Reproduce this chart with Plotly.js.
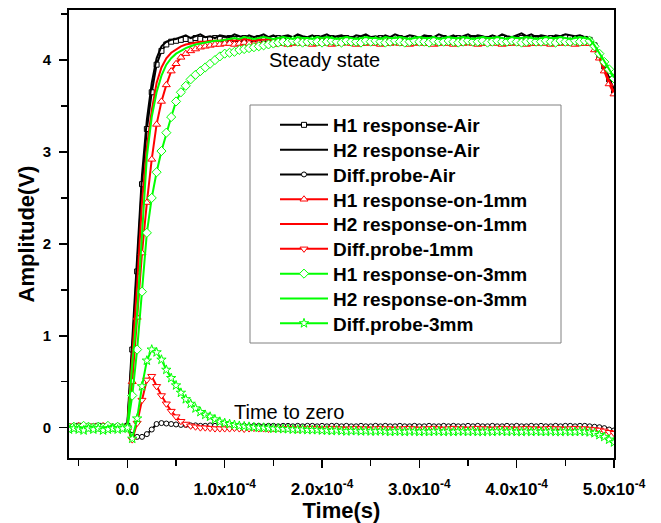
<!DOCTYPE html>
<html>
<head>
<meta charset="utf-8">
<script src="https://cdn.plot.ly/plotly-3.0.1.min.js"></script>
<style>
html,body{margin:0;padding:0;background:#fff;}
#chart{width:661px;height:523px;}
</style>
</head>
<body>
<div id="chart"></div>
<script>
// Sample grid: -60 us to 500 us every 5 us (113 samples)
const timeStartUs = -60;
const timeStepUs = 5;
const sampleCount = 113;

const seriesNames = [
  "H1 response-Air", "H2 response-Air", "Diff.probe-Air",
  "H1 response-on-1mm", "H2 response-on-1mm", "Diff.probe-1mm",
  "H1 response-on-3mm", "H2 response-on-3mm", "Diff.probe-3mm"
];

const xTickVals = [0, 1e-4, 2e-4, 3e-4, 4e-4, 5e-4];
const xTickText = ["0.0", "1.0x10<sup>-4</sup>", "2.0x10<sup>-4</sup>", "3.0x10<sup>-4</sup>", "4.0x10<sup>-4</sup>", "5.0x10<sup>-4</sup>"];
const yTickVals = [0, 1, 2, 3, 4];

const blackH1 = [
 0.01,0.00,0.02,0.01,0.00,0.01,0.02,0.00,0.01,0.00,0.01,0.00,
 0.02,0.85,1.70,2.65,3.25,3.65,3.95,4.10,4.17,4.20,4.21,
 4.22,4.23,4.22,4.24,4.23,4.22,4.23,4.24,4.23,4.22,4.24,4.23,
 4.23,4.24,4.22,4.23,4.24,4.23,4.22,4.23,4.24,4.23,4.23,4.22,
 4.24,4.23,4.22,4.23,4.24,4.23,4.23,4.24,4.22,4.23,4.24,4.23,
 4.22,4.23,4.24,4.23,4.22,4.24,4.23,4.23,4.22,4.24,4.23,4.24,
 4.23,4.22,4.23,4.24,4.23,4.22,4.24,4.23,4.23,4.24,4.22,4.23,
 4.24,4.23,4.22,4.23,4.24,4.23,4.24,4.23,4.22,4.23,4.24,4.23,
 4.23,4.24,4.23,4.22,4.24,4.23,4.24,4.25,4.24,4.23,4.24,4.23,
 4.22,4.16,4.05,3.93,3.79,3.67
];
const blackH2 = [
 0.02,0.01,0.03,0.00,0.02,0.01,0.00,0.02,0.01,0.03,0.00,0.01,
 0.05,0.95,1.80,2.75,3.35,3.75,4.02,4.15,4.20,4.22,4.23,
 4.25,4.27,4.24,4.26,4.28,4.25,4.26,4.24,4.27,4.26,4.25,4.28,
 4.26,4.24,4.27,4.25,4.26,4.28,4.25,4.27,4.24,4.26,4.27,4.25,
 4.28,4.26,4.25,4.27,4.24,4.26,4.28,4.25,4.26,4.27,4.25,4.24,
 4.27,4.26,4.28,4.25,4.26,4.24,4.27,4.25,4.28,4.26,4.25,4.27,
 4.26,4.24,4.27,4.26,4.25,4.28,4.26,4.25,4.27,4.24,4.26,4.28,
 4.25,4.27,4.26,4.24,4.27,4.25,4.28,4.26,4.25,4.27,4.29,4.26,
 4.28,4.25,4.27,4.26,4.24,4.27,4.26,4.28,4.27,4.26,4.27,4.25,
 4.24,4.17,4.06,3.93,3.80,3.68
];
const blackDiff = [
 0.01,0.02,0.01,0.00,0.02,0.01,0.01,0.02,0.00,0.01,0.02,0.01,
 0.00,-0.08,-0.10,-0.10,-0.07,-0.02,0.04,0.05,0.045,0.04,0.035,
 0.03,0.03,0.025,0.025,0.02,0.02,0.025,0.02,0.02,0.02,0.015,0.02,
 0.02,0.02,0.015,0.02,0.02,0.015,0.02,0.02,0.015,0.02,0.02,0.015,
 0.02,0.015,0.02,0.02,0.015,0.02,0.015,0.02,0.02,0.015,0.02,0.015,
 0.015,0.02,0.015,0.015,0.02,0.015,0.02,0.015,0.015,0.02,0.015,0.015,
 0.02,0.015,0.015,0.02,0.015,0.015,0.02,0.015,0.02,0.015,0.015,0.02,
 0.015,0.02,0.015,0.015,0.02,0.015,0.015,0.02,0.015,0.02,0.015,0.015,
 0.02,0.015,0.02,0.015,0.015,0.02,0.015,0.02,0.02,0.015,0.02,0.02,
 0.015,0.01,0.005,-0.005,-0.02,-0.03
];
const redH1 = [
 0.01,0.00,0.02,0.01,0.00,0.01,0.00,0.02,0.01,0.00,0.01,0.00,
 0.00,0.50,1.20,1.90,2.45,2.92,3.30,3.55,3.73,3.88,3.96,4.03,4.07,4.10,4.12,4.14,4.15,4.16,4.17,4.17,4.18,
 4.18,4.17,4.18,4.19,4.18,4.17,4.18,4.18,4.19,4.17,4.18,4.18,
 4.17,4.18,4.19,4.18,4.18,4.17,4.18,4.19,4.18,4.17,4.18,4.18,
 4.19,4.18,4.17,4.18,4.18,4.19,4.18,4.17,4.18,4.18,4.19,4.18,
 4.18,4.17,4.18,4.19,4.18,4.18,4.17,4.18,4.19,4.18,4.17,4.18,
 4.18,4.19,4.18,4.17,4.18,4.18,4.19,4.18,4.17,4.18,4.18,4.19,
 4.18,4.17,4.18,4.18,4.19,4.18,4.17,4.18,4.18,4.19,4.18,4.17,
 4.18,4.18,
 4.18,4.11,4.02,3.88,3.74,3.63
];
const redH2 = [
 0.00,0.01,0.00,0.02,0.01,0.00,0.01,0.02,0.00,0.01,0.00,0.01,
 0.00,0.75,1.55,2.45,3.05,3.45,3.75,3.92,4.02,4.08,4.12,4.15,4.17,4.18,4.19,4.20,4.20,4.21,4.21,4.21,4.22,
 4.22,4.21,4.22,4.23,4.22,4.21,4.22,4.22,4.23,4.21,4.22,4.22,
 4.21,4.22,4.23,4.22,4.22,4.21,4.22,4.23,4.22,4.21,4.22,4.22,
 4.23,4.22,4.21,4.22,4.22,4.23,4.22,4.21,4.22,4.22,4.23,4.22,
 4.22,4.21,4.22,4.23,4.22,4.22,4.21,4.22,4.23,4.22,4.21,4.22,
 4.22,4.23,4.22,4.21,4.22,4.22,4.23,4.22,4.21,4.22,4.22,4.23,
 4.22,4.21,4.22,4.22,4.23,4.22,4.21,4.22,4.22,4.23,4.22,4.21,
 4.22,4.22,
 4.20,4.13,4.03,3.90,3.76,3.65
];
const redDiff = [
 0.02,0.01,0.00,0.02,0.01,0.02,0.00,0.01,0.02,0.01,0.00,0.01,
 0.00,-0.13,0.05,0.30,0.52,0.56,0.45,0.35,0.26,0.18,0.12,0.07,0.04,0.02,0.01,0.00,0.00,-0.005,-0.01,-0.01,-0.01,
 -0.01,-0.005,-0.01,-0.015,-0.01,-0.005,-0.01,-0.01,-0.015,-0.01,-0.005,-0.01,
 -0.005,-0.01,-0.015,-0.01,-0.01,-0.005,-0.01,-0.015,-0.01,-0.005,-0.01,-0.01,
 -0.015,-0.01,-0.005,-0.01,-0.01,-0.015,-0.01,-0.005,-0.01,-0.01,-0.015,-0.01,
 -0.01,-0.005,-0.01,-0.015,-0.01,-0.01,-0.005,-0.01,-0.015,-0.01,-0.005,-0.01,
 -0.01,-0.015,-0.01,-0.005,-0.01,-0.01,-0.015,-0.01,-0.005,-0.01,-0.01,-0.015,
 -0.01,-0.005,-0.01,-0.01,-0.015,-0.01,-0.005,-0.01,-0.01,-0.015,-0.01,-0.005,
 -0.01,-0.01,
 -0.015,-0.02,-0.025,-0.035,-0.05,-0.06
];
const greenH1 = [
 0.00,0.01,0.00,0.02,0.01,0.00,0.01,0.00,0.02,0.00,0.01,0.00,
 0.00,0.35,0.85,1.48,2.12,2.50,2.78,3.01,3.21,3.38,3.55,3.65,3.72,3.79,3.84,3.88,3.92,3.96,4.00,4.04,4.07,4.08,4.09,4.11,4.12,4.13,4.14,4.15,4.16,4.17,4.18,
 4.19,4.20,4.19,4.21,4.20,4.19,4.20,4.21,4.20,4.19,4.20,4.21,
 4.20,4.19,4.21,4.20,4.20,4.19,4.21,4.20,4.21,4.20,4.19,4.20,
 4.21,4.20,4.19,4.20,4.21,4.20,4.20,4.19,4.21,4.20,4.20,4.21,
 4.20,4.19,4.20,4.21,4.20,4.20,4.21,4.19,4.20,4.21,4.20,4.20,
 4.21,4.20,4.19,4.20,4.21,4.20,4.20,4.21,4.20,4.19,4.21,4.20,
 4.20,4.21,4.20,4.21,
 4.21,4.15,4.07,3.98,3.90,3.80
];
const greenH2 = [
 0.01,0.00,0.01,0.00,0.02,0.00,0.01,0.00,0.01,0.02,0.00,0.01,
 0.00,0.70,1.25,2.10,2.95,3.38,3.65,3.83,3.95,4.02,4.07,4.10,4.13,4.15,4.17,4.18,4.19,4.20,4.21,4.21,4.22,
 4.23,4.24,4.23,4.25,4.24,4.23,4.24,4.25,4.24,4.23,4.24,4.25,
 4.24,4.23,4.25,4.24,4.24,4.23,4.25,4.24,4.25,4.24,4.23,4.24,
 4.25,4.24,4.23,4.24,4.25,4.24,4.24,4.23,4.25,4.24,4.24,4.25,
 4.24,4.23,4.24,4.25,4.24,4.24,4.25,4.23,4.24,4.25,4.24,4.24,
 4.25,4.24,4.23,4.24,4.25,4.24,4.24,4.25,4.24,4.23,4.25,4.24,
 4.24,4.25,4.24,4.23,4.24,4.25,4.24,4.24,4.25,4.24,4.23,4.24,
 4.25,4.24,
 4.23,4.16,4.08,3.99,3.90,3.81
];
const greenDiff = [
 -0.02,-0.01,-0.02,-0.03,-0.01,-0.02,-0.01,-0.03,-0.02,-0.01,-0.02,-0.01,
 0.00,-0.12,0.10,0.45,0.73,0.85,0.82,0.74,0.63,0.54,0.46,0.38,0.31,0.26,0.21,0.17,0.14,0.12,0.09,0.065,
 0.05,0.04,0.03,0.02,0.015,0.01,0.005,0.00,0.00,-0.005,-0.01,-0.01,-0.015,-0.015,-0.02,-0.02,-0.02,-0.025,-0.025,-0.025,-0.03,
 -0.03,-0.035,-0.03,-0.035,-0.04,-0.035,-0.035,-0.04,-0.035,-0.04,-0.04,-0.035,
 -0.04,-0.045,-0.04,-0.04,-0.045,-0.04,-0.04,-0.045,-0.04,-0.045,-0.04,-0.04,
 -0.045,-0.04,-0.045,-0.04,-0.04,-0.045,-0.04,-0.045,-0.045,-0.04,-0.045,-0.04,
 -0.04,-0.045,-0.04,-0.045,-0.045,-0.04,-0.045,-0.04,-0.045,-0.045,-0.04,-0.045,
 -0.045,-0.04,-0.045,-0.045,-0.04,-0.045,
 -0.05,-0.06,-0.08,-0.10,-0.13,-0.16
];

const timeS = [];
for (let i = 0; i < sampleCount; i++) timeS.push((timeStartUs + timeStepUs * i) * 1e-6);

const seriesValues = [blackH1, blackH2, blackDiff, redH1, redH2, redDiff, greenH1, greenH2, greenDiff];
const seriesColors = ["#000000","#000000","#000000","#ff0000","#ff0000","#ff0000","#00ff00","#00ff00","#00ff00"];
const seriesSymbols = ["square", null, "circle", "triangle-up", null, "triangle-down", "diamond", null, "star"];
const seriesSizes = [5, 0, 5, 7, 0, 7, 7, 0, 7];

const legendIds = seriesNames.map((n, k) => k === 0 ? "legend" : "legend" + (k + 1));

const traces = seriesValues.map((vals, k) => {
  const tr = {
    x: timeS, y: vals, name: seriesNames[k], type: "scatter",
    legend: legendIds[k],
    line: {color: seriesColors[k], width: 2},
    mode: seriesSymbols[k] ? "lines+markers" : "lines"
  };
  if (seriesSymbols[k]) {
    tr.marker = {symbol: seriesSymbols[k], size: seriesSizes[k], color: "#ffffff",
                 line: {color: seriesColors[k], width: 1}};
  }
  return tr;
});

const L = 69, R = 47, T = 10, B = 65;
const W = 661 - L - R, H = 523 - T - B;
const px2x = p => (p - L) / W;
const py2y = p => (523 - B - p) / H;

const layout = {
  width: 661, height: 523,
  margin: {l: L, r: R, t: T, b: B, pad: 0},
  paper_bgcolor: "#ffffff", plot_bgcolor: "#ffffff",
  font: {family: "Arial, 'Liberation Sans', sans-serif", color: "#000"},
  showlegend: true,
  xaxis: {
    range: [-6e-5, 5e-4], showgrid: false, zeroline: false,
    showline: true, linecolor: "#000", linewidth: 2, mirror: true,
    ticks: "outside", ticklen: 8, tickwidth: 1.5, tickcolor: "#000",
    tickmode: "array", tickvals: xTickVals, ticktext: xTickText,
    tickfont: {size: 17, weight: "bold"}, ticklabelstandoff: 7,
    minor: {tickmode: "linear", tick0: 0, dtick: 5e-5, ticks: "outside", ticklen: 6, tickwidth: 1.5, tickcolor: "#000"},
    title: {text: "Time(s)", font: {size: 22, weight: "bold"}, standoff: 3},
    automargin: false
  },
  yaxis: {
    range: [-0.33, 4.545], showgrid: false, zeroline: false,
    showline: true, linecolor: "#000", linewidth: 2, mirror: true,
    ticks: "outside", ticklen: 8, tickwidth: 1.5, tickcolor: "#000",
    tickmode: "array", tickvals: yTickVals,
    tickfont: {size: 15, weight: "bold"}, ticklabelstandoff: 5,
    minor: {tickmode: "linear", tick0: 0, dtick: 0.5, ticks: "outside", ticklen: 6, tickwidth: 1.5, tickcolor: "#000"},
    title: {text: "Amplitude(V)", font: {size: 22, weight: "bold"}, standoff: 2},
    automargin: false
  },
  shapes: [{
    type: "rect", xref: "paper", yref: "paper",
    x0: px2x(250), x1: px2x(561), y0: py2y(343), y1: py2y(105),
    line: {color: "#808080", width: 1}, fillcolor: "#ffffff", layer: "below"
  }],
  annotations: [
    {x: 2.03e-4, y: 4.0, xref: "x", yref: "y", text: "Steady state", showarrow: false,
     xanchor: "center", yanchor: "middle", font: {size: 20, color: "#000"}},
    {x: 1.663e-4, y: 0.17, xref: "x", yref: "y", text: "Time to zero", showarrow: false,
     xanchor: "center", yanchor: "middle", font: {size: 20, color: "#000"}}
  ]
};

// one single-entry legend per series, stacked at the reference row pitch
const rowTop = 125, rowPitch = 24.8;
legendIds.forEach((id, k) => {
  layout[id] = {
    x: px2x(275), y: py2y(rowTop + rowPitch * k), xanchor: "left", yanchor: "middle",
    bgcolor: "rgba(0,0,0,0)", borderwidth: 0,
    font: {size: 19, weight: "bold", color: "#000"},
    itemwidth: 48
  };
});

Plotly.newPlot("chart", traces, layout, {displayModeBar: false, staticPlot: true});
</script>
</body>
</html>
